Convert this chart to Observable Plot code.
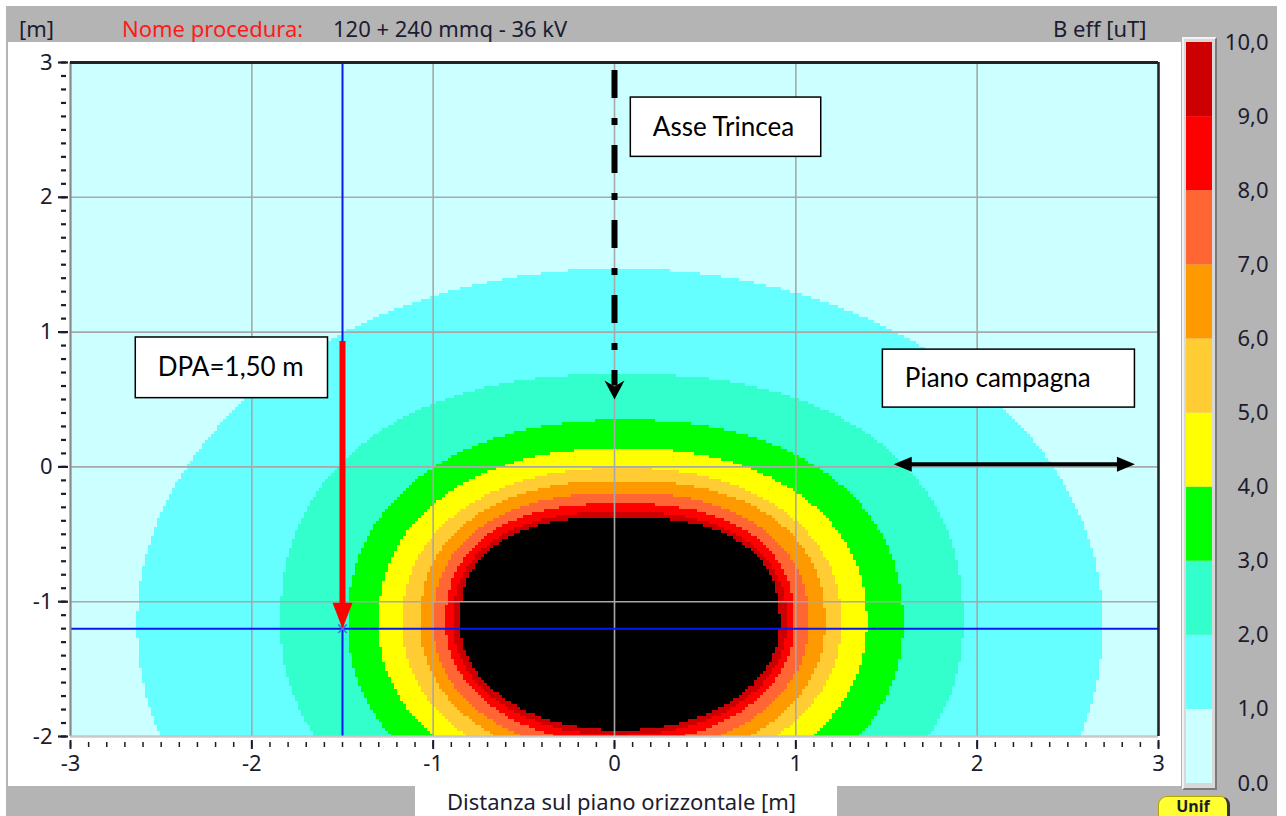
<!DOCTYPE html>
<html><head><meta charset="utf-8">
<script src="https://cdn.jsdelivr.net/npm/d3@7"></script>
<script src="https://cdn.jsdelivr.net/npm/@observablehq/plot@0.6"></script>
<style>
html,body{margin:0;padding:0;background:#fff;width:1286px;height:816px;overflow:hidden;position:relative;font-family:"Noto Sans",sans-serif;}
.abs{position:absolute;}
#win{left:6px;top:6px;width:1271px;height:810px;background:#b4b4b4;}
#panel{left:8px;top:42px;width:1173px;height:744px;background:#fff;}
#tab{left:415px;top:780px;width:422px;height:36px;background:#fff;}
.hdr{font-size:22px;color:#1c1c30;top:15px;white-space:nowrap;line-height:26px;}
#barframe{left:1182px;top:37px;width:31px;height:749px;background:#d8d8d8;border-top:2px solid #f2f2f2;border-left:2px solid #f2f2f2;border-right:2px solid #7a7a7a;border-bottom:2px solid #7a7a7a;}
#barclip{left:1186px;top:20px;width:100px;height:780px;overflow:hidden;}
#unif{left:1158px;top:796px;width:72px;height:30px;background:#ffff33;border:1px solid #b8a000;border-right:3px solid #333;border-radius:9px;font-weight:bold;font-size:16px;color:#1c1c30;text-align:center;line-height:19px;padding-top:0px;box-sizing:border-box;}
</style></head><body>
<div id="win" class="abs"></div>
<div id="panel" class="abs"></div>
<div id="tab" class="abs"></div>
<div class="abs hdr" style="left:19px">[m]</div>
<div class="abs hdr" style="left:122px;color:#ff1a1a">Nome procedura:</div>
<div class="abs hdr" style="left:333px">120 + 240 mmq - 36 kV</div>
<div class="abs hdr" style="left:1053px">B eff [uT]</div>
<div class="abs hdr" style="left:447px;top:788px">Distanza sul piano orizzontale [m]</div>
<div id="barframe" class="abs"></div>
<div id="main" class="abs" style="left:8px;top:42px"></div>
<div id="barclip" class="abs"></div>
<div id="unif" class="abs">Unif</div>
<script>
// ---- data ----
const levelValues = [1, 2, 3, 4, 5, 6, 7, 8, 9, 10];           // B eff thresholds (uT)
const levelColors = ["#ccffff", "#66ffff", "#33ffcc", "#00ff00", "#ffff00", "#ffcc33", "#ff9900", "#ff6633", "#ff0000", "#cc0000", "#000000"];
const levelLeft   = [-2.63, -1.84, -1.47, -1.30, -1.17, -1.07, -1.00, -0.93, -0.89, -0.85]; // left edge of each iso-level at cable depth (m)
const levelRight  = [ 2.69,  1.92,  1.59,  1.39,  1.25,  1.16,  1.07,  0.99,  0.95,  0.91]; // right edge (m)
const levelTop    = [ 1.47,  0.69,  0.35,  0.14, -0.005, -0.10, -0.19, -0.27, -0.33, -0.37]; // top of each iso-level (m)
const levelShapeUp = [2.0, 2.3, 2.2, 2.2, 2.2, 2.3, 2.3, 2.4, 2.4, 2.5];  // roundness of the upper half of each contour
const cableDepth = -1.16;        // centre of the iso-levels (m)
const shapeDown = 2.05;

const xTicks = [-3, -2, -1, 0, 1, 2, 3];
const xTickLabels = ["-3", "-2", "-1", "0", "1", "2", "3"];
const yTicks = [-2, -1, 0, 1, 2, 3];
const yTickLabels = ["-2", "-1", "0", "1", "2", "3"];
const xMinor = d3.range(-30, 31).map(i => i / 10);
const yMinor = d3.range(-20, 31).map(i => i / 10);

const barLow  = [0, 1, 2, 3, 4, 5, 6, 7, 8, 9];
const barHigh = [1, 2, 3, 4, 5, 6, 7, 8, 9, 10];
const barTicks = [0, 1, 2, 3, 4, 5, 6, 7, 8, 9, 10];
const barTickLabels = ["0.0", "1,0", "2,0", "3,0", "4,0", "5,0", "6,0", "7,0", "8,0", "9,0", "10,0"];

// annotations (data units)
const dpaPoint = {x: -1.5, y: -1.2};
const dpaArrowTop = 0.93;
const trenchAxis = {x: 0, yTop: 2.94, yTip: 0.50};
const groundArrow = {y: 0.02, x1: 1.54, x2: 2.87};
const boxLabels = ["DPA=1,50 m", "Asse Trincea", "Piano campagna"];
const boxX1 = [-2.64, 0.09, 1.48];
const boxX2 = [-1.58, 1.14, 2.87];
const boxY1 = [0.51, 2.30, 0.44];
const boxY2 = [0.96, 2.74, 0.87];

function fieldLevel(x, y) {
  let v = 0;
  for (let i = 0; i < levelValues.length; i++) {
    const cx = (levelLeft[i] + levelRight[i]) / 2, a = (levelRight[i] - levelLeft[i]) / 2;
    const b = levelTop[i] - cableDepth;
    const p = y > cableDepth ? levelShapeUp[i] : shapeDown;
    if (Math.abs((x - cx) / a) ** p + Math.abs((y - cableDepth) / b) ** p <= 1) v = levelValues[i];
  }
  return v;
}

// arrowhead symbols: tip at origin
function head(dir, len, half, notch = 0) {
  return {draw(ctx) {
    const pts = {
      down: [[0, 0], [-half, -len], [0, -len + notch], [half, -len]],
      left: [[0, 0], [len, -half], [len - notch, 0], [len, half]],
      right: [[0, 0], [-len, -half], [-len + notch, 0], [-len, half]]
    }[dir];
    ctx.moveTo(...pts[0]);
    for (let k = 1; k < pts.length; k++) ctx.lineTo(...pts[k]);
    ctx.closePath();
  }};
}

const blue = "#0a18f0";
const boxes = boxLabels.map((label, i) => ({label, x1: boxX1[i], x2: boxX2[i], y1: boxY1[i], y2: boxY2[i]}));

const main = Plot.plot({
  width: 1173, height: 744,
  marginLeft: 62, marginRight: 23, marginTop: 20, marginBottom: 50,
  x: {domain: [-3, 3]},
  y: {domain: [-2, 3]},
  color: {type: "threshold", domain: levelValues, range: levelColors},
  style: {fontFamily: "Noto Sans", fontSize: "22px", color: "#1c1c30", background: "transparent", overflow: "visible"},
  marks: [
    Plot.raster({x1: -3, x2: 3, y1: -2, y2: 3, pixelSize: 3, imageRendering: "pixelated", fill: fieldLevel}),
    Plot.gridX(xTicks, {stroke: "#a8a8a8", strokeOpacity: 1, strokeWidth: 1.6}),
    Plot.gridY(yTicks, {stroke: "#a8a8a8", strokeOpacity: 1, strokeWidth: 1.6}),
    Plot.ruleX([dpaPoint.x], {stroke: blue, strokeWidth: 2}),
    Plot.ruleY([dpaPoint.y], {stroke: blue, strokeWidth: 2}),
    Plot.ruleX([-3], {stroke: "#8a8a8a", strokeWidth: 2}),
    Plot.ruleY([-2], {stroke: "#c8c8c8", strokeWidth: 2}),
    Plot.ruleY([3], {stroke: "#222", strokeWidth: 3}),
    Plot.ruleX([3], {stroke: "#222", strokeWidth: 2.5}),
    Plot.axisX(xTicks, {tickSize: 9, tickPadding: 6, dy: 4, strokeWidth: 2, tickFormat: (d, i) => xTickLabels[i], fontSize: 22}),
    Plot.axisX(xMinor, {tickSize: 5, dy: 6, strokeWidth: 1.5, tickFormat: () => ""}),
    Plot.axisY(yTicks, {tickSize: 10, tickPadding: 6, dx: -2, strokeWidth: 2.2, tickFormat: (d, i) => yTickLabels[i], fontSize: 22}),
    Plot.axisY(yMinor, {tickSize: 5, dx: -4, strokeWidth: 2.2, tickFormat: () => ""}),
    // DPA red arrow
    Plot.ruleX([dpaPoint], {x: "x", y1: dpaArrowTop, y2: dpaPoint.y + 0.14, stroke: "#ff0000", strokeWidth: 6}),
    Plot.dot([dpaPoint], {x: "x", y: "y", r: 5, symbol: head("down", 26, 10), fill: "#ff0000", stroke: "none"}),
    Plot.dot([dpaPoint], {x: "x", y: "y", r: 4, symbol: "times", stroke: "#3a7ad0", strokeWidth: 1.5}),
    // trench axis
    Plot.ruleX([trenchAxis], {x: "x", y1: "yTop", y2: trenchAxis.yTip + 0.1, stroke: "#000", strokeWidth: 6, strokeDasharray: "28,20,7,20"}),
    Plot.dot([trenchAxis], {x: "x", y: "yTip", r: 5, symbol: head("down", 19, 10, 6), fill: "#000", stroke: "none"}),
    // ground level double arrow
    Plot.ruleY([groundArrow], {y: "y", x1: groundArrow.x1 + 0.06, x2: groundArrow.x2 - 0.06, stroke: "#000", strokeWidth: 4}),
    Plot.dot([groundArrow], {x: "x1", y: "y", r: 5, symbol: head("left", 18, 7.5), fill: "#000", stroke: "none"}),
    Plot.dot([groundArrow], {x: "x2", y: "y", r: 5, symbol: head("right", 18, 7.5), fill: "#000", stroke: "none"}),
    // label boxes
    Plot.rect(boxes, {x1: "x1", x2: "x2", y1: "y1", y2: "y2", fill: "#fff", stroke: "#000", strokeWidth: 1.5}),
    Plot.text(boxes, {x: "x1", y: d => (d.y1 + d.y2) / 2, text: "label", dx: 22, textAnchor: "start", fontFamily: "Lato", fontSize: 26, fill: "#000"})
  ]
});
document.getElementById("main").appendChild(main);

const bar = Plot.plot({
  width: 86, height: 780,
  marginLeft: 0, marginRight: 60, marginTop: 22, marginBottom: 17,
  x: {domain: [0, 1], axis: null},
  y: {domain: [0, 10]},
  color: {type: "threshold", domain: levelValues, range: levelColors},
  style: {fontFamily: "Noto Sans", fontSize: "22px", color: "#1c1c30", background: "transparent"},
  marks: [
    Plot.rect(barLow, {x1: 0, x2: 1, y1: d => d, y2: (d, i) => barHigh[i], fill: d => d}),
    Plot.axisY(barTicks, {anchor: "right", tickSize: 0, tickPadding: 56, textAnchor: "end", tickFormat: (d, i) => barTickLabels[i], fontSize: 22})
  ]
});
document.getElementById("barclip").appendChild(bar);
</script>
</body></html>
